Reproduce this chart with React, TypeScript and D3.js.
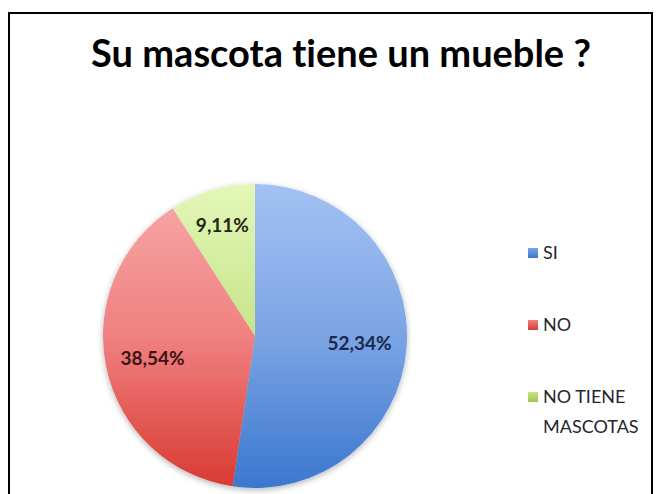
import * as d3 from "d3";
import React from "react";

const categories = ["SI", "NO", "NO TIENE MASCOTAS"];
const values = [52.34, 38.54, 9.11];
const valueLabels = ["52,34%", "38,54%", "9,11%"];
const legendLines = [["SI"], ["NO"], ["NO TIENE", "MASCOTAS"]];

const colors = [
  { top: "#a3c2f3", mid: "#7ba4e4", bottom: "#3a77cf", text: "#1b2a4a" },
  { top: "#f8aaaa", mid: "#f08080", bottom: "#d83a32", text: "#3a1515" },
  { top: "#e4f7b8", mid: "#c6e48a", bottom: "#9dc64c", text: "#1f2a10" },
];

const W = 660;
const H = 494;
const cx = 255;
const cy = 336;
const radius = 152;
const font = "Lato, 'Open Sans', sans-serif";

export default function App() {
  const pie = d3
    .pie<number>()
    .sort(null)
    .value((d) => d);
  const arcs = pie(values);

  const arc = d3.arc<d3.PieArcDatum<number>>().innerRadius(0).outerRadius(radius);
  // small slices get their label pushed further out
  const labelArc = (a: d3.PieArcDatum<number>) => {
    const k = a.endAngle - a.startAngle < 1 ? 0.76 : 0.69;
    return d3
      .arc<d3.PieArcDatum<number>>()
      .innerRadius(radius * k)
      .outerRadius(radius * k);
  };

  const legendY = d3.scalePoint<string>().domain(categories).range([253, 397]);

  return (
    <div style={{ position: "absolute", left: 0, top: 0, width: W, height: H, background: "#fff" }}>
      <svg width={W} height={H} style={{ display: "block", fontVariantLigatures: "none" }}>
        <defs>
          {colors.map((c, i) => (
            <linearGradient
              key={i}
              id={`grad-${i}`}
              gradientUnits="userSpaceOnUse"
              x1={0}
              y1={-radius}
              x2={0}
              y2={radius}
            >
              <stop offset="0%" stopColor={c.top} />
              <stop offset="50%" stopColor={c.mid} />
              <stop offset="100%" stopColor={c.bottom} />
            </linearGradient>
          ))}
          {colors.map((c, i) => (
            <linearGradient key={i} id={`lg-${i}`} x1={0} y1={0} x2={0} y2={1}>
              <stop offset="0%" stopColor={c.mid} />
              <stop offset="100%" stopColor={c.bottom} />
            </linearGradient>
          ))}
          <filter id="shadow" x="-20%" y="-20%" width="140%" height="140%">
            <feGaussianBlur in="SourceAlpha" stdDeviation="3" />
            <feOffset dx="0" dy="2" result="blur" />
            <feComponentTransfer>
              <feFuncA type="linear" slope="0.3" />
            </feComponentTransfer>
            <feMerge>
              <feMergeNode />
              <feMergeNode in="SourceGraphic" />
            </feMerge>
          </filter>
        </defs>

        <rect x={9} y={13} width={643} height={H} fill="none" stroke="#000" strokeWidth={2} />

        <text
          x={341}
          y={67}
          textAnchor="middle"
          fontFamily={font}
          fontWeight={700}
          fontSize={38}
          fill="#000"
        >
          Su mascota tiene un mueble ?
        </text>

        <g transform={`translate(${cx},${cy})`} filter="url(#shadow)">
          {arcs.map((a, i) => (
            <path key={i} d={arc(a) || ""} fill={`url(#grad-${i})`} />
          ))}
        </g>

        <g transform={`translate(${cx},${cy})`}>
          {arcs.map((a, i) => {
            const [x, y] = labelArc(a).centroid(a);
            return (
              <text
                key={i}
                x={x}
                y={y}
                dy="0.35em"
                textAnchor="middle"
                fontFamily={font}
                fontWeight={700}
                fontSize={19}
                fill={colors[i].text}
              >
                {valueLabels[i]}
              </text>
            );
          })}
        </g>

        <g>
          {categories.map((c, i) => {
            const y = legendY(c) || 0;
            return (
              <g key={c} transform={`translate(528,${y})`}>
                <rect x={0} y={-5} width={10} height={10} fill={`url(#lg-${i})`} />
                {legendLines[i].map((line, j) => (
                  <text
                    key={j}
                    x={15}
                    y={j * 30}
                    dy="0.36em"
                    fontFamily={font}
                    fontSize={18}
                    fill="#262630"
                  >
                    {line}
                  </text>
                ))}
              </g>
            );
          })}
        </g>
      </svg>
    </div>
  );
}
